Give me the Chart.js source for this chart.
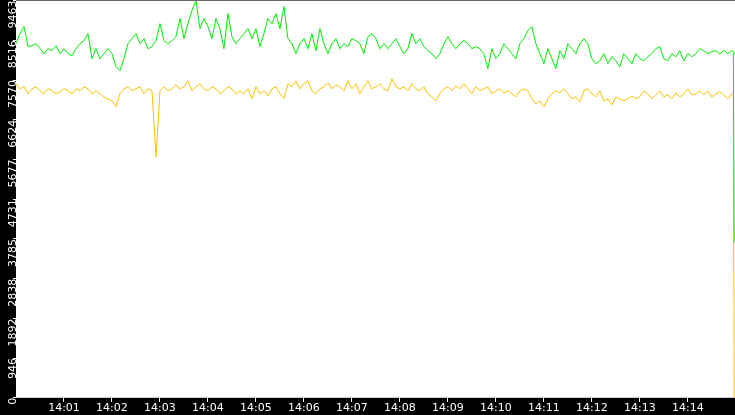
<!DOCTYPE html>
<html><head><meta charset="utf-8">
<script src="https://cdn.jsdelivr.net/npm/chart.js@4/dist/chart.umd.min.js"></script>
<style>html,body{margin:0;padding:0;background:#000;overflow:hidden}#wrap{width:735px;height:421px;margin-top:-6px}</style>
</head><body><div id="wrap"><canvas id="c"></canvas></div>
<script>
// samples every 5 s starting 14:00:00
const stepSec = 5;
const greenVals = [8437,8676,8843,8366,8390,8437,8317,8198,8317,8270,8390,8198,8317,8198,8150,8317,8437,8509,8676,8078,8317,8078,8198,8317,8198,7888,7792,8078,8437,8556,8676,8437,8556,8317,8366,8509,8915,8509,8437,8509,8604,9034,8556,8915,9225,9465,8795,9034,8843,8556,9034,8795,8317,9154,8604,8437,8556,8676,8795,
8556,8795,8366,8676,9034,8915,9154,8795,9320,8556,8437,8198,8437,8556,8317,8676,8270,8795,8437,8198,8437,8556,8317,8437,8366,8556,8509,8437,8198,8604,8676,8556,8317,8437,8317,8437,8556,8366,8198,8317,8676,8437,8556,8366,8270,8198,8078,8198,8437,8604,8437,8317,8437,8509,8437,8317,8366,8317,8198,7840,8317,8078,8198,8437,8317,8198,8078,8437,8556,8748,8843,8437,8198,7959,8317,8078,7840,8270,8078,8437,8317,8198,8437,8556,8437,8078,7959,8031,8198,7959,8126,8031,7888,8198,8078,7959,8198,8078,8031,8126,8198,8317,8366,8078,8031,8198,8126,8270,8031,8198,8126,8198,8317,8270,8198,8246,8270,8198,8270,8198,8270,8198];
const goldVals = [7481,7361,7409,7242,7361,7409,7313,7242,7361,7313,7242,7290,7361,7313,7242,7361,7313,7409,7361,7242,7313,7242,7170,7122,7074,6931,7242,7361,7409,7313,7361,7409,7242,7361,7313,5736,7313,7409,7313,7361,7457,7361,7409,7553,7313,7409,7481,7361,7313,7409,7361,7242,7313,7409,7361,7242,7313,
7242,7361,7122,7409,7242,7313,7194,7361,7409,7242,7122,7481,7409,7553,7361,7481,7553,7313,7242,7361,7409,7505,7361,7457,7409,7313,7553,7361,7481,7242,7409,7553,7361,7409,7481,7361,7313,7600,7409,7361,7409,7313,7481,7361,7313,7409,7242,7170,7074,7242,7361,7409,7313,7433,7361,7481,7361,7242,7409,7313,7361,7409,7242,7313,7361,7266,7313,7242,7170,7313,7361,7313,7122,7003,7074,6931,7122,7242,7313,7266,7361,7242,7122,7170,7050,7313,7361,7242,7170,7313,7074,7122,6979,7170,7122,7074,7122,7194,7122,7170,7313,7242,7122,7218,7313,7170,7218,7122,7266,7170,7242,7361,7218,7242,7313,7218,7313,7170,7242,7290,7218,7122,7242];
const greenEnd = [[897,8198],[898,3700]];
const goldEnd = [[897,7242],[898,0]];
const yTicks = [0,946,1892,2838,3785,4731,5677,6624,7570,8516,9463];
const xTicks = [60,120,180,240,300,360,420,480,540,600,660,720,780,840];
const xLabels = ['14:01','14:02','14:03','14:04','14:05','14:06','14:07','14:08','14:09','14:10','14:11','14:12','14:13','14:14'];

const pts = (vals, end) => vals.map((v,i)=>({x:i*stepSec,y:v})).concat(end.map(e=>({x:e[0],y:e[1]})));

const bg = {id:'bg', beforeDraw(ch){
  const {ctx, chartArea:a} = ch;
  ctx.save(); ctx.fillStyle='#000'; ctx.fillRect(0,0,ch.width,ch.height);
  ctx.fillStyle='#fff'; ctx.fillRect(a.left,a.top,a.right-a.left,a.bottom-a.top); ctx.restore();
}};

new Chart(document.getElementById('c'), {
  type:'line',
  data:{datasets:[
    {data:pts(greenVals,greenEnd), borderColor:'#00ee00', borderWidth:1, pointRadius:0, tension:0},
    {data:pts(goldVals,goldEnd), borderColor:'#ffc000', borderWidth:1, pointRadius:0, tension:0}
  ]},
  options:{
    responsive:true, maintainAspectRatio:false, animation:false,
    layout:{padding:0},
    plugins:{legend:{display:false}, tooltip:{enabled:false}},
    scales:{
      x:{type:'linear', min:0, max:899,
        afterBuildTicks:s=>{s.ticks=xTicks.map(v=>({value:v}));},
        ticks:{color:'#fff', font:{family:'DejaVu Sans', size:11}, padding:0, maxRotation:0,
          callback:(v)=>xLabels[xTicks.indexOf(v)]},
        grid:{drawOnChartArea:false, color:'#fff', tickLength:4}, border:{display:false}},
      y:{min:0, max:9463,
        afterBuildTicks:s=>{s.ticks=yTicks.map(v=>({value:v}));},
        afterFit:s=>{s.width=16;},
        ticks:{color:'#fff', font:{family:'DejaVu Sans', size:11}, padding:0, minRotation:90, maxRotation:90,
          callback:(v)=>String(v)},
        grid:{drawOnChartArea:false, color:'#fff', tickLength:3}, border:{display:false}}
    }
  },
  plugins:[bg]
});
</script></body></html>
